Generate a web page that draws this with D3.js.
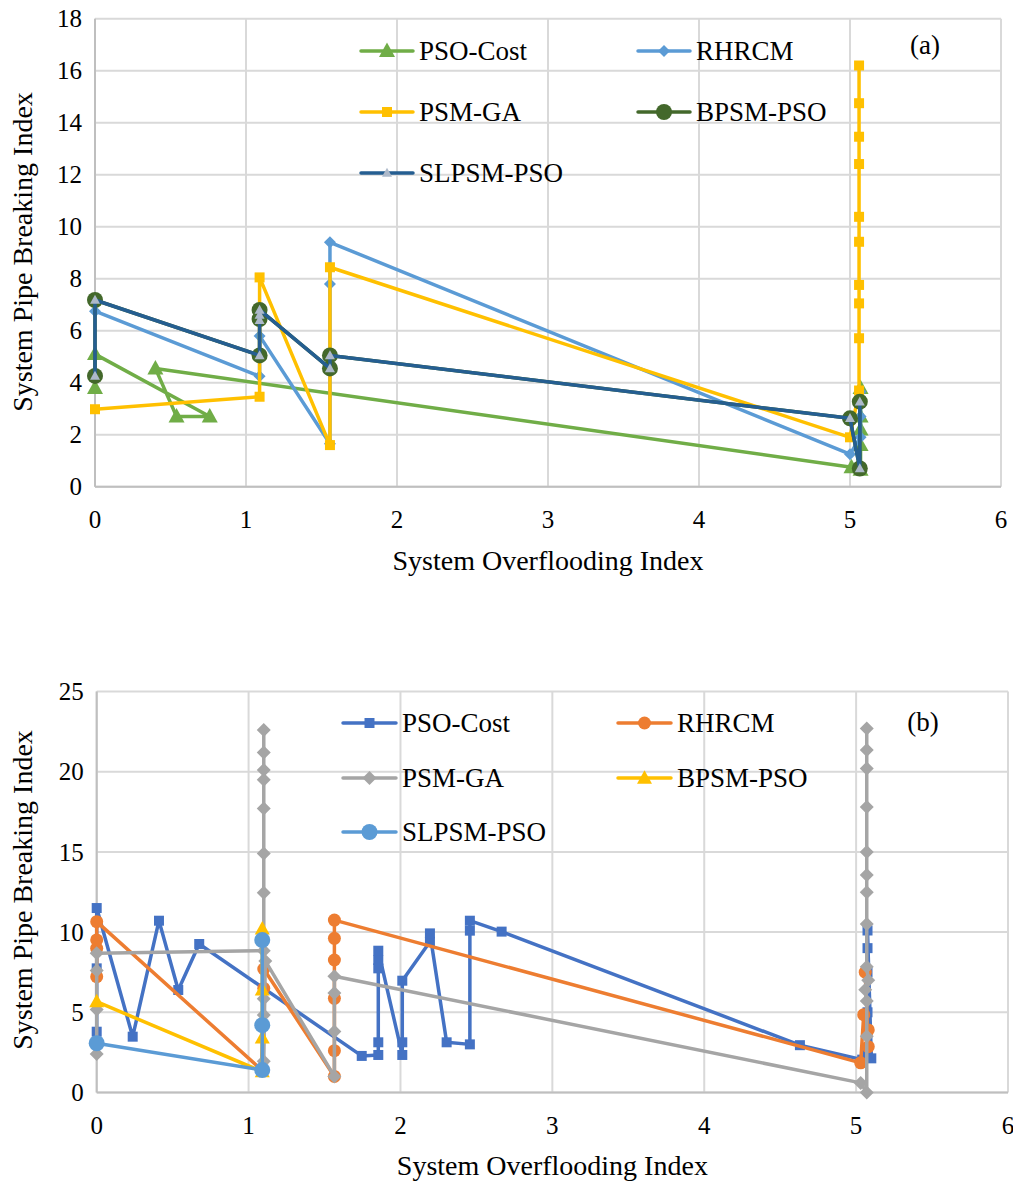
<!DOCTYPE html>
<html><head><meta charset="utf-8">
<script src="https://cdn.jsdelivr.net/npm/d3@7"></script>
<style>
html,body{margin:0;padding:0;background:#fff;}
text{font-family:"Times New Roman","Liberation Serif",serif;fill:#000;}
</style></head>
<body><svg id="c" width="1013" height="1183"></svg>
<script>
// ---------- DATA ----------
const seriesNames = ["PSO-Cost","RHRCM","PSM-GA","BPSM-PSO","SLPSM-PSO"];
const xTicks = [0,1,2,3,4,5,6];
const yTicksA = [0,2,4,6,8,10,12,14,16,18];
const yTicksB = [0,5,10,15,20,25];

// Panel (a): [overflooding, pipe breaking]
const aPsoCost = [[0,3.8],[0,5.1],[0.76,2.7],[0.54,2.7],[0.40,4.55],[5.01,0.75],[5.07,0.65],[5.07,1.6],[5.07,2.2],[5.07,2.7],[5.07,3.8]];
const aRhrcm = [[0,6.75],[1.09,4.25],[1.09,5.8],[1.556,1.65],[1.556,7.8],[1.556,9.4],[5.0,1.25],[5.07,1.9],[5.07,2.7],[5.07,3.65]];
const aPsmGa = [[0,2.98],[1.09,3.46],[1.09,8.05],[1.556,1.6],[1.556,8.44],[5.0,1.9],[5.06,3.7],[5.06,5.71],[5.06,7.05],[5.06,7.76],[5.06,9.42],[5.06,10.38],[5.06,12.41],[5.06,13.46],[5.06,14.75],[5.06,16.2]];
const aBpsmPso = [[0,4.26],[0,7.18],[1.09,5.05],[1.09,6.45],[1.09,6.8],[1.556,4.55],[1.556,5.05],[5.0,2.63],[5.065,0.7],[5.065,3.27]];
const aSlpsmPso = [[0,4.26],[0,7.18],[1.09,5.05],[1.09,6.4],[1.09,6.6],[1.09,6.8],[1.556,4.55],[1.556,5.05],[5.0,2.63],[5.065,0.7],[5.065,3.27]];

// Panel (b)
const bPsoCost = [[0,3.79],[0,7.74],[0,11.5],[0.237,3.48],[0.41,10.71],[0.537,6.39],[0.675,9.26],[1.745,2.28],[1.854,2.34],[1.854,3.13],[1.854,7.74],[1.854,8.26],[1.854,8.84],[2.012,2.34],[2.012,3.13],[2.012,6.97],[2.194,9.4],[2.194,9.92],[2.304,3.13],[2.457,3.0],[2.457,10.09],[2.457,10.71],[2.666,10.03],[4.63,2.95],[5.04,2.05],[5.075,2.4],[5.075,5.0],[5.075,7.5],[5.075,9.0],[5.075,10.1],[5.10,2.13]];
const bRhrcm = [[0,7.22],[0,8.99],[0,9.51],[0,10.65],[1.086,1.4],[1.1,6.5],[1.1,7.7],[1.565,1.0],[1.565,2.61],[1.565,5.87],[1.565,8.26],[1.565,9.61],[1.565,10.75],[5.03,1.85],[5.05,4.85],[5.08,3.9],[5.08,2.86],[5.06,7.5]];
const bPsmGa = [[0,2.4],[0,5.17],[0,7.6],[0,8.68],[1.1,8.84],[1.1,12.45],[1.1,14.9],[1.1,17.7],[1.1,19.5],[1.1,20.1],[1.1,21.2],[1.1,22.6],[1.1,5.85],[1.1,4.83],[1.1,1.95],[1.11,8.2],[1.565,1.0],[1.565,3.8],[1.565,6.2],[1.565,7.25],[5.03,0.6],[5.07,0.0],[5.07,3.5],[5.07,5.7],[5.06,6.4],[5.08,7.0],[5.07,7.84],[5.07,10.5],[5.07,12.48],[5.07,13.56],[5.07,15.0],[5.07,17.8],[5.07,20.2],[5.07,21.35],[5.07,22.7]];
const bBpsmPso = [[0,5.66],[1.09,1.3],[1.09,3.4],[1.09,6.4],[1.09,10.2]];
const bSlpsmPso = [[0,3.07],[1.09,1.4],[1.09,4.2],[1.09,9.5]];

// ---------- DRAW ----------
const svg = d3.select("#c");
const FONT_TICK = 25, FONT_TITLE = 28, FONT_LEG = 27;

function markerPath(type, s){
  const r = s/2;
  if(type==="square") return `M${-r},${-r}H${r}V${r}H${-r}Z`;
  if(type==="diamond") return `M0,${-r}L${r},0L0,${r}L${-r},0Z`;
  if(type==="triangle") return `M0,${-r*1.05}L${r},${r*0.75}L${-r},${r*0.75}Z`;
  if(type==="circle") return d3.arc()({innerRadius:0,outerRadius:r,startAngle:0,endAngle:2*Math.PI});
}

function panel(cfg){
  const x = d3.scaleLinear().domain([0,6]).range(cfg.xr);
  const y = d3.scaleLinear().domain([0,cfg.ymax]).range(cfg.yr);
  const g = svg.append("g");
  g.selectAll(".gy").data(cfg.yTicks).enter().append("line")
    .attr("x1",x(0)).attr("x2",x(6)).attr("y1",d=>y(d)).attr("y2",d=>y(d))
    .attr("stroke","#d9d9d9").attr("stroke-width",2);
  g.selectAll(".gx").data(xTicks).enter().append("line")
    .attr("y1",y(0)).attr("y2",y(cfg.ymax)).attr("x1",d=>x(d)).attr("x2",d=>x(d))
    .attr("stroke","#d9d9d9").attr("stroke-width",2);
  g.append("line").attr("x1",x(0)).attr("x2",x(6)).attr("y1",y(0)).attr("y2",y(0)).attr("stroke","#bfbfbf").attr("stroke-width",2);
  g.append("line").attr("x1",x(0)).attr("x2",x(0)).attr("y1",y(0)).attr("y2",y(cfg.ymax)).attr("stroke","#bfbfbf").attr("stroke-width",2);
  g.selectAll(".ty").data(cfg.yTicks).enter().append("text")
    .attr("x",x(0)-13).attr("y",d=>y(d)).attr("dy","0.35em").attr("text-anchor","end")
    .attr("font-size",FONT_TICK).text(d=>d);
  g.selectAll(".tx").data(xTicks).enter().append("text")
    .attr("x",d=>x(d)).attr("y",y(0)+33).attr("dy","0.35em").attr("text-anchor","middle")
    .attr("font-size",FONT_TICK).text(d=>d);
  g.append("text").attr("x",(x(0)+x(6))/2).attr("y",cfg.xTitleY).attr("dy","0.35em").attr("text-anchor","middle")
    .attr("font-size",FONT_TITLE).text("System Overflooding Index");
  g.append("text").attr("transform",`translate(22,${cfg.yTitleY}) rotate(-90)`).attr("dy","0.35em").attr("text-anchor","middle")
    .attr("font-size",FONT_TITLE).text("System Pipe Breaking Index");
  g.append("text").attr("x",cfg.tagX).attr("y",cfg.tagY).attr("dy","0.35em").attr("text-anchor","middle")
    .attr("font-size",FONT_LEG).text(cfg.tag);
  const line = d3.line().x(d=>x(d[0])).y(d=>y(d[1]));
  cfg.series.forEach(s=>{
    const sg = g.append("g");
    sg.append("path").datum(s.data).attr("d",line).attr("fill","none")
      .attr("stroke",s.color).attr("stroke-width",s.lw||3.5).attr("stroke-linejoin","round");
    sg.selectAll("path.m").data(s.data).enter().append("path").attr("class","m")
      .attr("transform",d=>`translate(${x(d[0])},${y(d[1])})`)
      .attr("d",markerPath(s.marker,s.ms)).attr("fill",s.mfill||s.color);
  });
  cfg.series.forEach((s,i)=>{
    const col = i%2, row = Math.floor(i/2);
    const lx = cfg.leg.cols[col], ly = cfg.leg.rows[row];
    const lg = g.append("g");
    lg.append("line").attr("x1",lx).attr("x2",lx+cfg.leg.len).attr("y1",ly).attr("y2",ly)
      .attr("stroke",s.color).attr("stroke-width",s.lw||3.5).attr("stroke-linecap","round");
    lg.append("path").attr("transform",`translate(${lx+cfg.leg.len/2},${ly})`)
      .attr("d",markerPath(s.marker,s.ms)).attr("fill",s.mfill||s.color);
    lg.append("text").attr("x",lx+cfg.leg.len+6).attr("y",ly).attr("dy","0.35em")
      .attr("font-size",FONT_LEG).text(s.name);
  });
}

panel({
  xr:[95,1001], yr:[486.7,18.7], ymax:18, yTicks:yTicksA,
  xTitleY:560, yTitleY:252, tag:"(a)", tagX:925, tagY:45,
  leg:{cols:[361,638], rows:[51,112,173], len:52},
  series:[
    {name:seriesNames[0], data:aPsoCost, color:"#70ad47", marker:"triangle", ms:16},
    {name:seriesNames[1], data:aRhrcm, color:"#5b9bd5", marker:"diamond", ms:12},
    {name:seriesNames[2], data:aPsmGa, color:"#ffc000", marker:"square", ms:10},
    {name:seriesNames[3], data:aBpsmPso, color:"#43682b", marker:"circle", ms:16},
    {name:seriesNames[4], data:aSlpsmPso, color:"#255e91", marker:"triangle", ms:10, mfill:"#adb9ca"}
  ]
});

panel({
  xr:[96.7,1008], yr:[1092.5,691.5], ymax:25, yTicks:yTicksB,
  xTitleY:1165, yTitleY:890, tag:"(b)", tagX:923, tagY:722,
  leg:{cols:[343,618], rows:[723,778,832], len:53},
  series:[
    {name:seriesNames[0], data:bPsoCost, color:"#4472c4", marker:"square", ms:10},
    {name:seriesNames[1], data:bRhrcm, color:"#ed7d31", marker:"circle", ms:13},
    {name:seriesNames[2], data:bPsmGa, color:"#a5a5a5", marker:"diamond", ms:14},
    {name:seriesNames[3], data:bBpsmPso, color:"#ffc000", marker:"triangle", ms:15},
    {name:seriesNames[4], data:bSlpsmPso, color:"#5b9bd5", marker:"circle", ms:16}
  ]
});
</script></body></html>
